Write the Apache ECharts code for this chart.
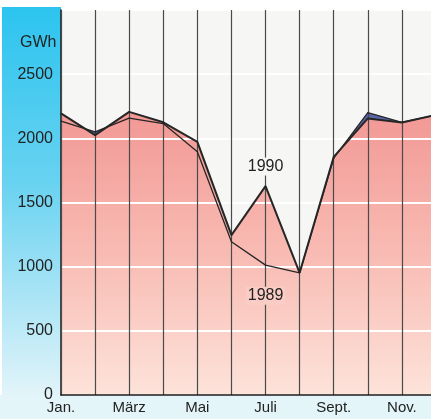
<!DOCTYPE html>
<html>
<head>
<meta charset="utf-8">
<script src="https://cdn.jsdelivr.net/npm/echarts@6/dist/echarts.min.js"></script>
<style>
  html, body { margin: 0; padding: 0; background: #fff; }
  #chart { width: 431px; height: 419px; }
</style>
</head>
<body>
<div id="chart"></div>
<script>
// Monate (nur jeder zweite wird beschriftet)
var months = ['Jan.', 'Feb.', 'März', 'April', 'Mai', 'Juni', 'Juli', 'Aug.', 'Sept.', 'Okt.', 'Nov.', 'Dez.'];
// Monatswerte in GWh
var values1990 = [2194, 2025, 2206, 2125, 1973, 1246, 1628, 952, 1856, 2155, 2124, 2182];
var values1989 = [2134, 2050, 2157, 2115, 1895, 1194, 1012, 952, 1845, 2201, 2124, 2182];
var yTicks = [0, 500, 1000, 1500, 2000, 2500];

var font = 'Liberation Sans, Arial, sans-serif';
var lineColor = '#262626';

var myChart = echarts.init(document.getElementById('chart'));

// Beschriftung "1990" / "1989" am Juli-Punkt
function withLabel(arr, idx, label) {
  return arr.map(function (v, i) {
    return i === idx ? { value: v, label: label } : v;
  });
}

myChart.setOption({
  animation: false,
  title: {
    text: 'GWh',
    left: 15,
    top: 30,
    textStyle: { fontFamily: font, fontSize: 16, fontWeight: 'normal', color: '#222' }
  },
  graphic: [
    {
      type: 'rect', z: -10,
      shape: { x: 2, y: 7, width: 59, height: 388 },
      style: {
        fill: new echarts.graphic.LinearGradient(0, 0, 0, 1, [
          { offset: 0, color: '#2cc4ef' },
          { offset: 0.45, color: '#68d2f1' },
          { offset: 1, color: '#e2f4f9' }
        ])
      }
    },
    {
      type: 'rect', z: -10,
      shape: { x: 0, y: 395, width: 431, height: 24 },
      style: { fill: '#e4f5f9' }
    }
  ],
  grid: {
    left: 61, width: 375, top: 10, bottom: 24,
    outerBoundsMode: 'none',
    show: true, backgroundColor: '#f6f6f4', borderWidth: 0
  },
  xAxis: {
    type: 'category',
    data: months,
    boundaryGap: false,
    z: 4,
    axisLine: { lineStyle: { color: '#1a1a1a', width: 1.5 } },
    axisTick: { show: false },
    axisLabel: { interval: 1, margin: 5, fontFamily: font, fontSize: 15, color: '#222' },
    splitLine: { show: true, interval: 0, lineStyle: { color: '#4a4a4a', width: 1.2 } }
  },
  yAxis: {
    type: 'value',
    min: 0, max: 3000, interval: 500,
    z: 3,
    axisLine: { show: true, lineStyle: { color: '#1a1a1a', width: 1.5 } },
    axisTick: { show: false },
    axisLabel: {
      margin: 8, fontFamily: font, fontSize: 16, color: '#222',
      formatter: function (v) { return yTicks.indexOf(v) >= 0 ? String(v) : ''; }
    },
    splitLine: { show: true, lineStyle: { color: '#ffffff', width: 2 } }
  },
  series: [
    {
      name: '1989 Fläche', type: 'line', data: values1989, z: 1,
      symbol: 'none', lineStyle: { width: 0 },
      areaStyle: { color: '#5966a8', opacity: 1 }
    },
    {
      name: '1990 Fläche', type: 'line', data: values1990, z: 2,
      symbol: 'none', lineStyle: { width: 0 },
      areaStyle: {
        opacity: 1,
        color: new echarts.graphic.LinearGradient(0, 0, 0, 1, [
          { offset: 0, color: '#f29895' },
          { offset: 0.5, color: '#f8bbb3' },
          { offset: 1, color: '#fde3da' }
        ])
      }
    },
    {
      name: '1989', type: 'line', z: 10,
      symbol: 'circle', symbolSize: 1,
      itemStyle: { color: lineColor },
      lineStyle: { color: lineColor, width: 1.3 },
      data: withLabel(values1989, 6, {
        show: true, position: 'bottom', distance: 21, formatter: '1989',
        fontFamily: font, fontSize: 16, color: '#222',
        backgroundColor: '#f9cdc5', padding: [1, 2]
      })
    },
    {
      name: '1990', type: 'line', z: 10,
      symbol: 'circle', symbolSize: 1,
      itemStyle: { color: lineColor },
      lineStyle: { color: lineColor, width: 2 },
      data: withLabel(values1990, 6, {
        show: true, position: 'top', distance: 10, formatter: '1990',
        fontFamily: font, fontSize: 16, color: '#222',
        backgroundColor: '#f6f6f4', padding: [1, 2]
      })
    }
  ]
});
</script>
</body>
</html>
